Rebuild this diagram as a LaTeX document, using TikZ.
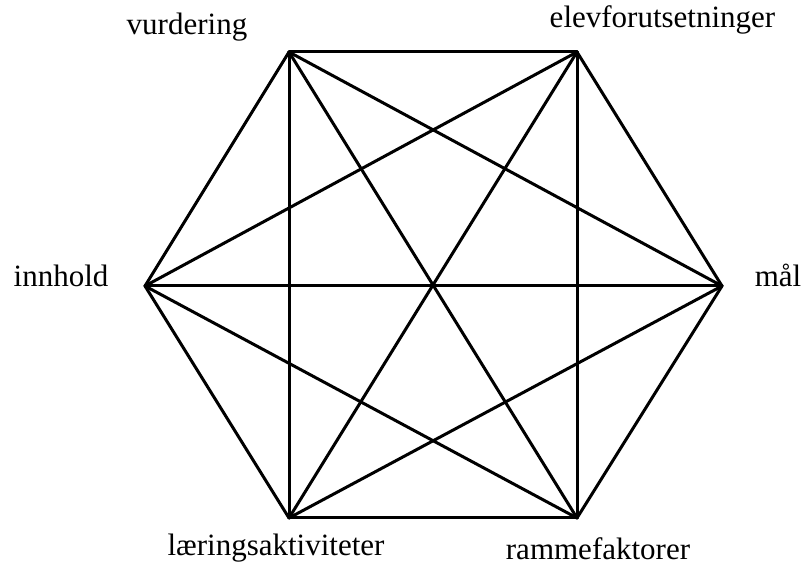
\documentclass[tikz,border=0pt]{standalone}
\usepackage{fontspec}
\setmainfont{Liberation Serif}
\begin{document}
\begin{tikzpicture}[x=1pt,y=1pt,
  edge/.style={line width=3pt,line cap=round,line join=round},
  lab/.style={anchor=base,inner sep=0pt,font=\fontsize{31}{36}\selectfont}]
\useasboundingbox (0,0) rectangle (804,567);
\coordinate (TL) at (289,515);
\coordinate (TR) at (577,515);
\coordinate (R) at (722,281);
\coordinate (BR) at (577,49);
\coordinate (BL) at (289,49);
\coordinate (L) at (145,281);
\foreach \a/\b in {TL/TR,TL/R,TL/BR,TL/BL,TL/L,TR/R,TR/BR,TR/BL,TR/L,R/BR,R/BL,R/L,BR/BL,BR/L,BL/L}
  \draw[edge] (\a) -- (\b);
\node[lab] (vur) at (187,532) {vurdering};
\node[lab] (elev) at (662.5,539) {elevforutsetninger};
\node[lab] (inn) at (61,280) {innhold};
\node[lab] (maal) at (778,280) {mål};
\node[lab] (laer) at (276,11) {læringsaktiviteter};
\node[lab] (ramme) at (598,7) {rammefaktorer};
\end{tikzpicture}
\end{document}
